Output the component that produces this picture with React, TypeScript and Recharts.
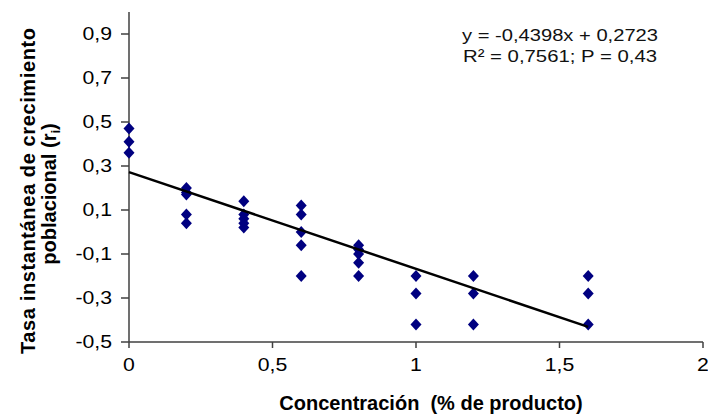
import React from 'react';
import { ScatterChart, Scatter, XAxis, YAxis, Label } from 'recharts';

// concentration levels and the observed rates at each level
const concentrations = [0, 0.2, 0.4, 0.6, 0.8, 1.0, 1.2, 1.6];
const ratesByConcentration = [
  [0.47, 0.41, 0.36],
  [0.2, 0.18, 0.17, 0.08, 0.04],
  [0.14, 0.08, 0.06, 0.04, 0.02],
  [0.12, 0.08, 0.0, -0.06, -0.2],
  [-0.06, -0.08, -0.1, -0.14, -0.2],
  [-0.2, -0.28, -0.42],
  [-0.2, -0.28, -0.42],
  [-0.2, -0.28, -0.42],
];

// regression line end points
const trendX = [0, 1.6];
const trendY = [0.2723, -0.4314];

const xTicks = [0, 0.5, 1, 1.5, 2];
const yTicks = [-0.5, -0.3, -0.1, 0.1, 0.3, 0.5, 0.7, 0.9];

const equationLines = ['y = -0,4398x  + 0,2723', 'R² = 0,7561;  P = 0,43'];

const points = concentrations.flatMap((c, i) =>
  ratesByConcentration[i].map((r) => ({ x: c, y: r }))
);
const trend = trendX.map((x, i) => ({ x, y: trendY[i] }));

const font = '"Liberation Sans", Arial, sans-serif';
const fmt = (v: number) => String(v).replace('.', ',');

const Diamond = (props: any) => {
  const { cx, cy } = props;
  if (cx == null || cy == null) return <g />;
  const w = 5.5;
  const h = 6;
  return (
    <polygon
      points={`${cx},${cy - h} ${cx + w},${cy} ${cx},${cy + h} ${cx - w},${cy}`}
      fill="#000080"
    />
  );
};

const NoShape = () => <g />;

// tick labels in the source are a bit wider than plain Arial
const WideTick = (props: any) => {
  const { x, y, payload, orientation } = props;
  const isLeft = orientation === 'left';
  return (
    <text
      transform={`translate(${x},${y}) scale(1.18,1)`}
      textAnchor={isLeft ? 'end' : 'middle'}
      dy={isLeft ? '0.355em' : '0.71em'}
      fontFamily={font}
      fontSize={18}
      fill="#000"
    >
      {fmt(payload.value)}
    </text>
  );
};

const YTitle = () => (
  <g fontFamily={font} fontWeight="bold" fontSize={20} fill="#000" style={{ whiteSpace: 'pre' }}>
    <text
      transform="translate(35,191) rotate(-90)"
      textAnchor="middle"
      textLength={326}
      lengthAdjust="spacing"
    >
      {'Tasa instantánea  de crecimiento'}
    </text>
    <text transform="translate(56,194) rotate(-90)" textAnchor="middle">
      poblacional (r
      <tspan fontSize={13} dy={4}>i</tspan>
      <tspan dy={-4}>)</tspan>
    </text>
  </g>
);

const XTitle = () => (
  <text
    x={431}
    y={410}
    textAnchor="middle"
    fontFamily={font}
    fontWeight="bold"
    fontSize={20}
    fill="#000"
    style={{ whiteSpace: 'pre' }}
  >
    {'Concentración  (% de producto)'}
  </text>
);

const App = () => {
  return (
    <div style={{ position: 'absolute', left: 0, top: 0, width: 708, height: 414, background: '#fff' }}>
      <ScatterChart width={708} height={414} margin={{ top: 12, right: 5, bottom: 42, left: 60 }}>
        <XAxis
          type="number"
          dataKey="x"
          domain={[0, 2]}
          ticks={xTicks}
          stroke="#404040"
          strokeWidth={1.5}
          tickSize={6}
          tickMargin={10}
          height={30}
          tick={<WideTick orientation="bottom" />}
        >
          <Label content={XTitle} />
        </XAxis>
        <YAxis
          type="number"
          dataKey="y"
          domain={[-0.5, 1.0]}
          ticks={yTicks}
          stroke="#404040"
          strokeWidth={1.5}
          tickSize={8}
          tickMargin={9}
          width={69}
          tick={<WideTick orientation="left" />}
        >
          <Label content={YTitle} />
        </YAxis>
        <Scatter data={points} shape={Diamond} isAnimationActive={false} />
        <Scatter
          data={trend}
          line={{ stroke: '#000', strokeWidth: 2.5 }}
          shape={NoShape}
          isAnimationActive={false}
        />
      </ScatterChart>
      <svg width={708} height={414} style={{ position: 'absolute', left: 0, top: 0, pointerEvents: 'none' }}>
        <g fontFamily={font} fontSize={17} fill="#111" style={{ whiteSpace: 'pre' }}>
          <text x={462} y={41} textLength={196} lengthAdjust="spacingAndGlyphs">{equationLines[0]}</text>
          <text x={463} y={62} textLength={194} lengthAdjust="spacingAndGlyphs">{equationLines[1]}</text>
        </g>
      </svg>
    </div>
  );
};

export default App;
